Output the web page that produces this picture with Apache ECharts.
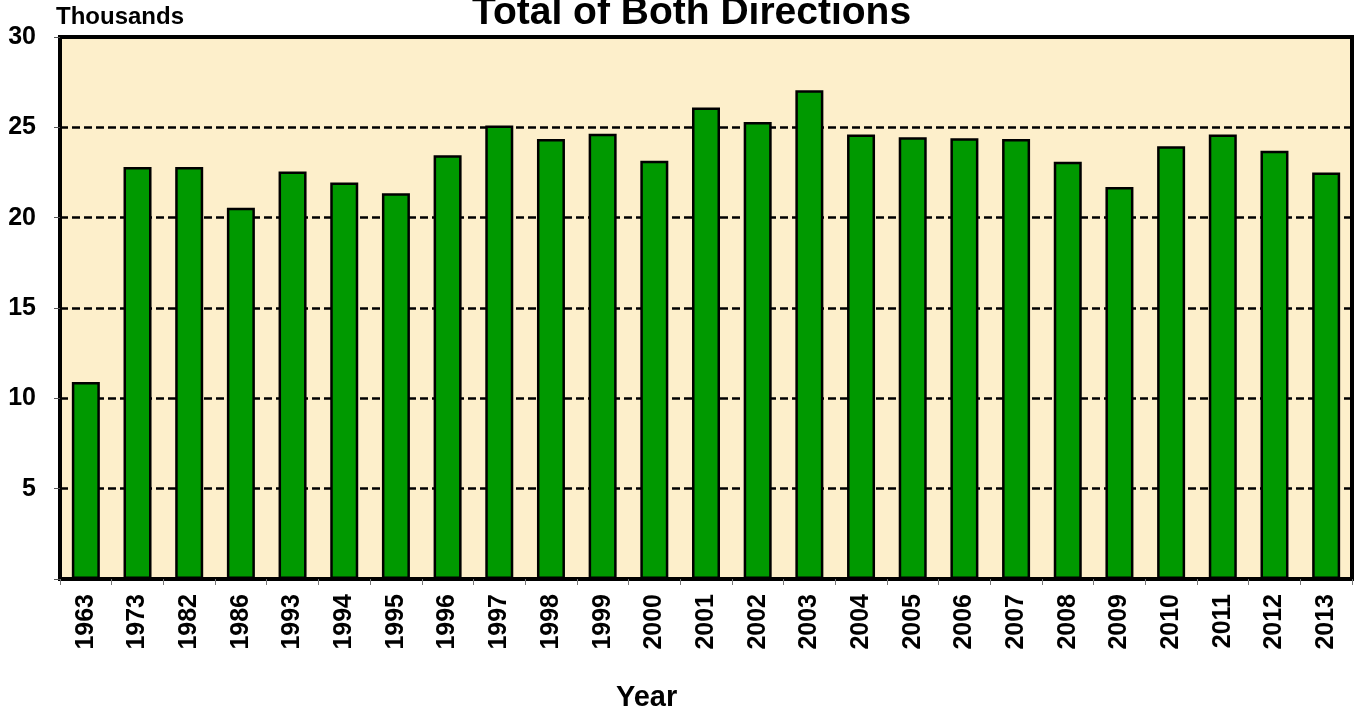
<!DOCTYPE html>
<html>
<head>
<meta charset="utf-8">
<title>Total of Both Directions</title>
<script src="https://cdn.jsdelivr.net/npm/echarts@6/dist/echarts.min.js"></script>
<style>
  html, body { margin: 0; padding: 0; background: #fff; }
  #chart { width: 1364px; height: 713px; }
</style>
</head>
<body>
<div id="chart"></div>
<script>
const years = ['1963', '1973', '1982', '1986', '1993', '1994', '1995', '1996', '1997', '1998',
  '1999', '2000', '2001', '2002', '2003', '2004', '2005', '2006', '2007', '2008',
  '2009', '2010', '2011', '2012', '2013']
// thousands of crossings, both directions
const totals = [10.9, 22.8, 22.8, 20.55, 22.55, 21.95, 21.35, 23.45, 25.1, 24.35,
  24.65, 23.15, 26.1, 25.3, 27.05, 24.6, 24.45, 24.4, 24.35, 23.1,
  21.7, 23.95, 24.6, 23.7, 22.5]
const yTicks = [0, 5, 10, 15, 20, 25, 30]

const font = "'Liberation Sans', Arial, sans-serif"
const chart = echarts.init(document.getElementById('chart'))

chart.setOption({
  backgroundColor: '#fff',
  animation: false,
  title: {
    text: 'Total of Both Directions',
    left: 467,
    top: -11,
    textStyle: { fontFamily: font, fontSize: 39, fontWeight: 'bold', color: '#000' },
  },
  grid: {
    left: 60,
    right: 12,
    top: 37,
    bottom: 134,
    show: true,
    backgroundColor: '#FDEFCB',
    borderColor: '#000',
    borderWidth: 4,
  },
  xAxis: {
    type: 'category',
    data: years,
    axisLine: { show: true, lineStyle: { color: '#000', width: 4 } },
    axisTick: { show: true, length: 6, lineStyle: { color: '#777', width: 1 } },
    axisLabel: {
      rotate: 90,
      margin: 15,
      color: '#000',
      fontFamily: font,
      fontSize: 25,
      fontWeight: 'bold',
    },
  },
  yAxis: {
    type: 'value',
    min: yTicks[0],
    max: yTicks[yTicks.length - 1],
    interval: 5,
    axisLine: { show: true, lineStyle: { color: '#000', width: 4 } },
    axisTick: { show: true, length: 6, lineStyle: { color: '#555', width: 1 } },
    axisLabel: {
      margin: 24,
      color: '#000',
      fontFamily: font,
      fontSize: 25,
      fontWeight: 'bold',
      formatter: (v) => (v === 0 ? '' : String(v)),
    },
    splitLine: {
      show: true,
      lineStyle: { color: '#000', width: 2.5, type: [8, 4] },
    },
  },
  graphic: [
    {
      type: 'text',
      left: 56,
      top: 5,
      style: { text: 'Thousands', fontFamily: font, fontSize: 24, fontWeight: 'bold', fill: '#000' },
    },
    {
      type: 'text',
      left: 616,
      top: 683,
      style: { text: 'Year', fontFamily: font, fontSize: 29, fontWeight: 'bold', fill: '#000' },
    },
  ],
  series: [
    {
      type: 'bar',
      data: totals,
      barWidth: 28,
      itemStyle: { color: '#009900', borderColor: '#000', borderWidth: 2.5 },
    },
  ],
})
</script>
</body>
</html>
